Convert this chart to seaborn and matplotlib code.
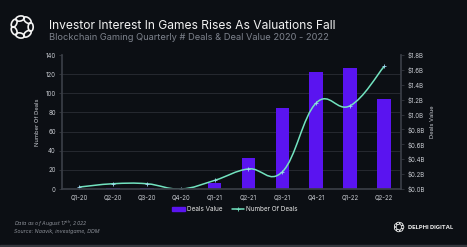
import numpy as np
import pandas as pd
import seaborn as sns
import matplotlib.pyplot as plt
from matplotlib.path import Path
from matplotlib.patches import PathPatch, Ellipse, Rectangle
from matplotlib.lines import Line2D

# data
quarters = ['Q1-20', 'Q2-20', 'Q3-20', 'Q4-20', 'Q1-21', 'Q2-21',
            'Q3-21', 'Q4-21', 'Q1-22', 'Q2-22']
deals_value = [0.005, 0.012, 0.02, 0.0, 0.085, 0.41, 1.09, 1.57, 1.62, 1.21]  # $B
num_deals = [2, 5.5, 5.5, 0, 9, 21, 18, 90, 87, 128]

bg = '#0c0f14'
purple = '#5a14f0'
mint = '#72e3c0'
grid_c = '#2a2e35'
tick_c = '#c9ccd2'

sns.set_theme(style='dark')
plt.rcParams['font.family'] = ['Inter', 'DejaVu Sans']

fig = plt.figure(figsize=(4.67, 2.47), dpi=100, facecolor=bg)
ax2 = fig.add_axes([0.1328, 0.2348, 0.7259, 0.5425])   # bars, $B (right)
ax = ax2.twinx()                                        # deals (left)
ax.yaxis.tick_left()
ax.yaxis.set_label_position('left')
ax2.yaxis.tick_right()
ax2.yaxis.set_label_position('right')
ax.set_zorder(ax2.get_zorder() + 1)
ax.patch.set_visible(False)
ax2.set_facecolor(bg)

df = pd.DataFrame({'quarter': quarters, 'value': deals_value, 'deals': num_deals})
sns.barplot(data=df, x='quarter', y='value', color=purple, width=0.4,
            saturation=1, edgecolor=purple, linewidth=0, ax=ax2)
ax2.set_ylim(0, 1.8)
ax2.set_xlim(-0.5, len(quarters) - 0.5)
ax2.set_yticks(np.arange(0, 1.81, 0.2))
ax2.set_yticklabels(['$%.1fB' % v for v in np.arange(0, 1.81, 0.2)])
# gridlines follow the deals axis (every 20 deals)
ax2.set_yticks(np.arange(0, 141, 20) * 1.8 / 140, minor=True)
ax2.grid(False)
ax2.yaxis.grid(True, which='minor', color=grid_c, lw=0.6)
ax2.tick_params(axis='y', which='minor', length=0)
ax2.set_ylabel('Deals Value', color=tick_c, fontsize=4.2, labelpad=4)
ax2.set_xlabel('')

# smooth line through the deal counts (cubic bezier, tension 0.4)
x = np.arange(len(num_deals), dtype=float)
y = np.array(num_deals, dtype=float)
t = 0.2
verts = [(x[0], y[0])]
codes = [Path.MOVETO]
for i in range(len(x) - 1):
    p0 = max(i - 1, 0)
    p3 = min(i + 2, len(x) - 1)
    c1 = (x[i] + t * (x[i + 1] - x[p0]), y[i] + t * (y[i + 1] - y[p0]))
    c2 = (x[i + 1] - t * (x[p3] - x[i]), y[i + 1] - t * (y[p3] - y[i]))
    verts += [c1, c2, (x[i + 1], y[i + 1])]
    codes += [Path.CURVE4] * 3
ax.add_patch(PathPatch(Path(verts, codes), fill=False, edgecolor=mint, lw=1.1))
ax.plot(x, y, ls='', marker='+', ms=2.5, mew=0.6, color='#9fd8f0')
ax.set_ylim(0, 140)
ax.set_yticks(np.arange(0, 141, 20))
ax.set_ylabel('Number Of Deals', color=tick_c, fontsize=4.2, labelpad=4)

for a in (ax, ax2):
    a.tick_params(axis='both', colors=tick_c, labelsize=4.4, length=2.5,
                  width=0.5, pad=2)
    for s in a.spines.values():
        s.set_visible(False)
ax.spines['left'].set_visible(True)
ax.spines['left'].set_color('#3a3e46')
ax.spines['right'].set_visible(True)
ax.spines['right'].set_color('#3a3e46')
ax.spines['bottom'].set_visible(True)
ax.spines['bottom'].set_color('#3a3e46')
ax2.tick_params(axis='x', which='major', length=0, pad=4)
ax2.set_xticks(np.arange(-0.5, len(quarters), 1), minor=True)
ax2.tick_params(axis='x', which='minor', length=2.5, width=0.5, color='#3a3e46')
ax.tick_params(axis='x', bottom=False, labelbottom=False)
ax.tick_params(axis='y', color='#3a3e46')
ax2.tick_params(axis='y', which='major', color='#3a3e46')

handles = [Rectangle((0, 0), 1, 1, color=purple),
           Line2D([], [], color=mint, lw=1.1, marker='+', ms=2.5, mew=0.6)]
fig.legend(handles, ['Deals Value', 'Number Of Deals'], loc='center',
           bbox_to_anchor=(0.503, 0.152), ncol=2, frameon=False,
           fontsize=4.6, labelcolor='#e6e6e6', handlelength=2.0,
           handleheight=0.7, columnspacing=1.5, handletextpad=0.2)

# header
fig.text(0.104, 0.895, 'Investor Interest In Games Rises As Valuations Fall',
         color='#f2f2f2', fontsize=8.7, va='center', ha='left')
fig.text(0.104, 0.848, 'Blockchain Gaming Quarterly # Deals & Deal Value 2020 - 2022',
         color='#7d828c', fontsize=6.7, va='center', ha='left')

# logos
def ring_logo(cx, cy, r, n, lw):
    la = fig.add_axes([cx - r, cy - r * 467 / 247, 2 * r, 2 * r * 467 / 247])
    la.set_xlim(-1, 1)
    la.set_ylim(-1, 1)
    la.axis('off')
    for k in range(n):
        ang = 2 * np.pi * k / n
        la.add_patch(Ellipse((0.62 * np.cos(ang), 0.62 * np.sin(ang)), 0.62, 0.36,
                             angle=np.degrees(ang) + 90, fill=False,
                             edgecolor='#f2f2f2', lw=lw))

ring_logo(22 / 467, 1 - 27 / 247, 14 / 467, 7, 1.2)
ring_logo(399 / 467, 1 - 227 / 247, 6 / 467, 7, 0.6)
fig.text(408 / 467, 1 - 227 / 247, 'DELPHI DIGITAL', color='#e8e8e8',
         fontsize=4.2, fontweight='bold', va='center', ha='left')

# footer
fig.text(14 / 467, 1 - 224 / 247, 'Data as of August 17$^{th}$, 2022',
         color='#8a8e96', fontsize=3.8, style='italic', va='center')
fig.text(14 / 467, 1 - 231 / 247, 'Source: Naavik, investgame, DDM',
         color='#8a8e96', fontsize=3.8, style='italic', va='center')
fig.patches.append(Rectangle((0, 0), 1, 2.5 / 247, transform=fig.transFigure,
                             color='#34373d', zorder=0))

fig.savefig('out.png', dpi=100, facecolor=bg)
